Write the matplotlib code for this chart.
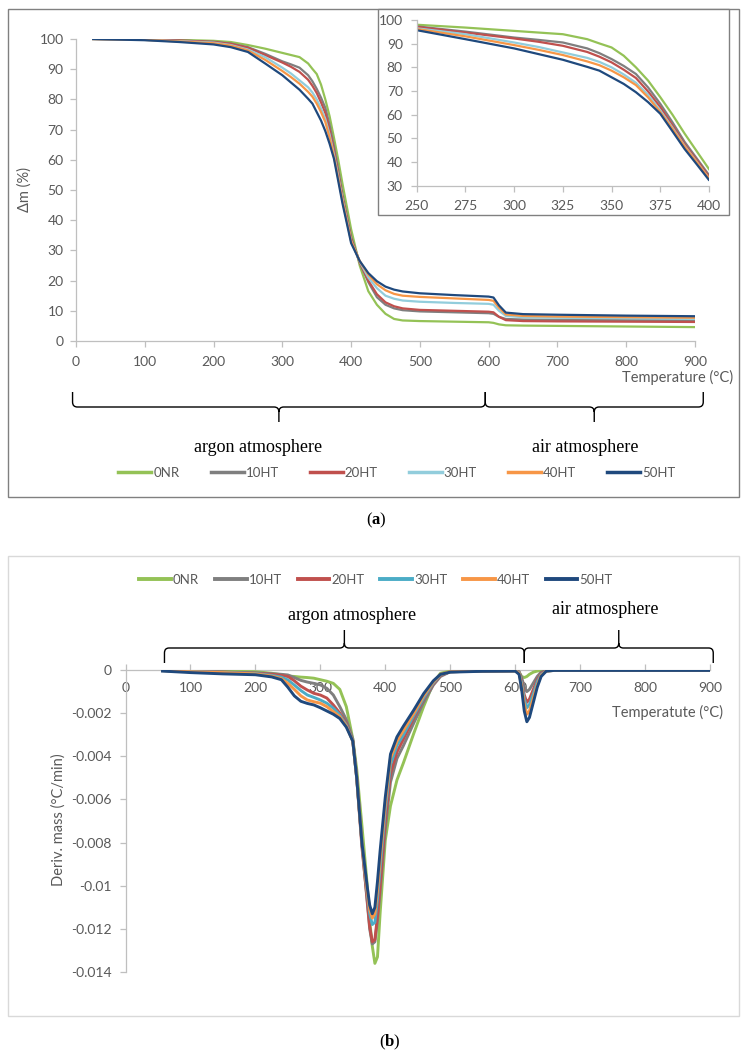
import numpy as np
import matplotlib
matplotlib.use('Agg')
import matplotlib.pyplot as plt
from matplotlib.path import Path
from matplotlib.patches import PathPatch, Rectangle
from matplotlib.transforms import blended_transform_factory
from matplotlib.lines import Line2D

plt.rcParams['font.family'] = ['Lato', 'DejaVu Sans']
plt.rcParams['mathtext.fontset'] = 'custom'
plt.rcParams['mathtext.rm'] = 'Liberation Serif'
plt.rcParams['mathtext.bf'] = 'Liberation Serif:bold'

# ---------------- data ----------------
names = ['0NR', '10HT', '20HT', '30HT', '40HT', '50HT']
colors_a = ['#94C256', '#7F7F7F', '#C0504D', '#92CDDC', '#F79646', '#1F497D']
colors_b = ['#94C256', '#7F7F7F', '#C0504D', '#4BACC6', '#F79646', '#1F497D']

# (a) TG curves, mass (%)
T_tg = [25, 100, 150, 200, 225, 250, 275, 300, 312.5, 325, 337.5, 343.75, 350, 356.25,
        362.5, 368.75, 375, 381.25, 387.5, 393.75, 400, 412.5, 425, 437.5, 450, 462.5,
        475, 500, 550, 600, 607, 615, 625, 650, 700, 800, 900]
tg_0nr = [100, 99.9, 99.7, 99.4, 99.0, 98.0, 96.8, 95.4, 94.7, 94.0, 91.9, 90.1, 88.4, 84.9,
          80.0, 74.4, 67.4, 60.0, 52.0, 44.5, 37.0, 25.0, 16.5, 12.0, 9.0, 7.3,
          6.8, 6.6, 6.4, 6.2, 6.0, 5.5, 5.2, 5.1, 5.0, 4.8, 4.6]
tg_10ht = [100, 99.8, 99.5, 99.1, 98.5, 97.3, 95.1, 92.6, 91.6, 90.5, 88.0, 86.0, 83.5, 80.6,
           77.2, 71.5, 64.6, 56.8, 48.5, 41.5, 34.5, 26.0, 19.5, 14.5, 12.0, 10.8,
           10.2, 9.8, 9.5, 9.2, 9.0, 8.0, 7.3, 7.1, 7.0, 6.9, 6.9]
tg_20ht = [100, 99.8, 99.5, 99.0, 98.4, 97.1, 94.7, 92.2, 90.8, 89.1, 86.5, 84.5, 82.1, 79.0,
           75.5, 69.8, 63.2, 55.5, 47.5, 40.8, 33.8, 26.0, 20.0, 15.5, 12.8, 11.5,
           10.8, 10.3, 10.0, 9.7, 9.5, 8.0, 6.9, 6.6, 6.5, 6.4, 6.3]
tg_30ht = [100, 99.7, 99.3, 98.8, 98.0, 96.5, 94.0, 90.5, 88.6, 86.3, 84.0, 82.3, 80.0, 77.0,
           73.5, 68.3, 61.8, 54.5, 46.8, 40.0, 33.1, 26.3, 21.0, 17.5, 15.0, 14.0,
           13.4, 13.0, 12.6, 12.3, 12.0, 10.0, 8.3, 7.9, 7.7, 7.5, 7.3]
tg_40ht = [100, 99.7, 99.2, 98.6, 97.8, 96.2, 93.1, 89.4, 87.4, 85.2, 82.5, 80.9, 78.6, 75.8,
           72.5, 67.3, 61.1, 54.0, 46.5, 39.8, 33.1, 26.5, 22.0, 18.8, 16.8, 15.6,
           15.0, 14.6, 14.1, 13.6, 13.3, 11.0, 8.8, 8.3, 8.1, 7.9, 7.7]
tg_50ht = [100, 99.6, 99.0, 98.2, 97.3, 95.7, 91.9, 88.0, 85.6, 83.2, 80.2, 78.6, 75.8, 73.0,
           69.5, 65.3, 60.4, 53.0, 45.5, 39.0, 32.4, 26.5, 22.5, 19.8, 18.0, 17.0,
           16.4, 15.8, 15.2, 14.7, 14.4, 11.8, 9.4, 8.9, 8.7, 8.4, 8.2]
tg_all = [tg_0nr, tg_10ht, tg_20ht, tg_30ht, tg_40ht, tg_50ht]

# (b) DTG curves, magnitude in 1e-3 units (plotted as negative values)
T_dtg = [57, 100, 150, 200, 225, 240, 250, 260, 270, 280, 290, 300, 310, 320, 330, 340,
         350, 356, 364, 372, 376, 380, 384, 388, 392, 400, 408, 418, 428, 444, 459, 474, 485,
         500, 550, 600, 606, 610, 614, 618, 622, 628, 634, 640, 648, 660, 700, 800, 900]
dtg_0nr = [0.02, 0.03, 0.05, 0.08, 0.15, 0.22, 0.28, 0.3, 0.33, 0.35, 0.38, 0.45, 0.52, 0.62, 0.9, 1.7,
           3.2, 4.6, 7.2, 9.9, 11.6, 12.8, 13.6, 13.3, 11.3, 7.9, 6.3, 5.1, 4.3, 2.93, 1.7, 0.6, 0.15,
           0.05, 0.03, 0.02, 0.1, 0.3, 0.35, 0.3, 0.2, 0.1, 0.05, 0.02, 0.01, 0.01, 0.01, 0.01, 0.01]
dtg_10ht = [0.02, 0.05, 0.09, 0.13, 0.17, 0.2, 0.23, 0.35, 0.48, 0.56, 0.62, 0.69, 0.85, 1.16, 1.7, 2.3,
            3.2, 4.9, 8.0, 10.7, 12.0, 12.7, 12.6, 11.6, 10.3, 7.4, 5.2, 4.1, 3.5, 2.45, 1.5, 0.7, 0.3,
            0.08, 0.05, 0.04, 0.08, 0.35, 0.8, 1.0, 0.9, 0.6, 0.3, 0.1, 0.03, 0.02, 0.02, 0.02, 0.02]
dtg_20ht = [0.02, 0.06, 0.1, 0.15, 0.2, 0.25, 0.3, 0.5, 0.75, 0.93, 1.08, 1.16, 1.3, 1.62, 2.0, 2.47,
            3.3, 5.0, 8.2, 10.6, 11.9, 12.6, 12.5, 11.4, 10.0, 7.0, 4.8, 3.8, 3.2, 2.2, 1.35, 0.65, 0.25,
            0.08, 0.05, 0.04, 0.1, 0.5, 1.15, 1.5, 1.35, 0.9, 0.45, 0.15, 0.04, 0.02, 0.02, 0.02, 0.02]
dtg_30ht = [0.03, 0.07, 0.11, 0.16, 0.25, 0.33, 0.46, 0.7, 0.95, 1.16, 1.27, 1.39, 1.54, 1.77, 2.08, 2.55,
            3.3, 5.0, 8.0, 10.3, 11.3, 11.8, 11.7, 10.6, 9.2, 6.5, 4.4, 3.5, 3.0, 2.1, 1.3, 0.6, 0.22,
            0.08, 0.05, 0.04, 0.12, 0.6, 1.35, 1.75, 1.6, 1.1, 0.55, 0.2, 0.05, 0.02, 0.02, 0.02, 0.02]
dtg_40ht = [0.03, 0.08, 0.12, 0.18, 0.28, 0.4, 0.62, 0.9, 1.2, 1.39, 1.47, 1.54, 1.7, 1.93, 2.16, 2.6,
            3.3, 5.0, 8.0, 10.2, 11.1, 11.5, 11.3, 10.2, 8.8, 6.2, 4.1, 3.3, 2.8, 2.0, 1.2, 0.55, 0.2,
            0.08, 0.05, 0.04, 0.15, 0.75, 1.6, 2.05, 1.9, 1.3, 0.7, 0.25, 0.05, 0.02, 0.02, 0.02, 0.02]
dtg_50ht = [0.05, 0.12, 0.18, 0.22, 0.32, 0.45, 0.8, 1.2, 1.45, 1.55, 1.62, 1.75, 1.9, 2.05, 2.25, 2.65,
            3.3, 5.0, 8.0, 10.0, 10.9, 11.3, 11.0, 9.8, 8.4, 5.9, 3.9, 3.1, 2.6, 1.85, 1.1, 0.5, 0.2,
            0.1, 0.06, 0.05, 0.2, 0.9, 1.9, 2.4, 2.2, 1.5, 0.8, 0.3, 0.05, 0.02, 0.02, 0.02, 0.02]
dtg_all = [dtg_0nr, dtg_10ht, dtg_20ht, dtg_30ht, dtg_40ht, dtg_50ht]

# atmosphere spans (deg C) for the braces
argon_a, air_a = [-5, 595], [595, 912]
argon_b, air_b = [60, 614], [614, 905]

# ---------------- layout helpers ----------------
W, H = 750, 1057
GREY_TXT = '#595959'


def box(x0, y0, x1, y1):
    return [x0 / W, 1 - y1 / H, (x1 - x0) / W, (y1 - y0) / H]


def fy(y):
    return 1 - y / H


def style(ax):
    for s in ['top', 'right']:
        ax.spines[s].set_visible(False)
    for s in ['left', 'bottom']:
        ax.spines[s].set_color('#BFBFBF')
        ax.spines[s].set_linewidth(0.9)
    ax.tick_params(colors='#BFBFBF', labelcolor=GREY_TXT, labelsize=10,
                   length=4, width=0.9)


def brace(ax, span, y_end, y_bar, y_tip, rx, ry=5):
    x0, x1 = span
    xc = (x0 + x1) / 2
    se = np.sign(y_end - y_bar)
    st = np.sign(y_tip - y_bar)
    verts = [(x0, fy(y_end)), (x0, fy(y_bar + se * ry)), (x0, fy(y_bar)), (x0 + rx, fy(y_bar)),
             (xc - rx, fy(y_bar)), (xc, fy(y_bar)), (xc, fy(y_bar + st * ry)), (xc, fy(y_tip)),
             (xc, fy(y_bar + st * ry)), (xc, fy(y_bar)), (xc + rx, fy(y_bar)),
             (x1 - rx, fy(y_bar)), (x1, fy(y_bar)), (x1, fy(y_bar + se * ry)), (x1, fy(y_end))]
    codes = [Path.MOVETO, Path.LINETO, Path.CURVE3, Path.CURVE3,
             Path.LINETO, Path.CURVE3, Path.CURVE3, Path.LINETO,
             Path.MOVETO, Path.CURVE3, Path.CURVE3,
             Path.LINETO, Path.CURVE3, Path.CURVE3, Path.LINETO]
    tr = blended_transform_factory(ax.transData, fig.transFigure)
    ax.add_patch(PathPatch(Path(verts, codes), transform=tr, fill=False,
                           lw=1.0, ec='black', clip_on=False))


fig = plt.figure(figsize=(W / 100, H / 100), dpi=100)

# ---------------- panel (a) ----------------
fig.add_artist(Rectangle((8 / W, fy(497)), 731 / W, 488 / H, transform=fig.transFigure,
                         fill=False, ec='#808080', lw=1.0))

ax1 = fig.add_axes(box(76, 39, 695, 341))
style(ax1)
for y, c in zip(tg_all, colors_a):
    ax1.plot(T_tg, y, color=c, lw=1.6)
ax1.set_xlim(0, 900)
ax1.set_ylim(0, 100)
ax1.set_xticks(range(0, 901, 100))
ax1.set_yticks(range(0, 101, 10))
ax1.tick_params(axis='x', pad=7)
ax1.tick_params(axis='y', pad=5)

fig.text(25 / W, fy(190), 'Δm (%)', rotation=90, ha='center', va='center',
         fontsize=10.5, color=GREY_TXT)
fig.text(733 / W, fy(377), 'Temperature (°C)', ha='right', va='center',
         fontsize=10.5, color=GREY_TXT)

# inset
fig.add_artist(Rectangle((378 / W, fy(215)), 351 / W, 206 / H, transform=fig.transFigure,
                         fc='white', ec='#808080', lw=1.0, zorder=5))
axi = fig.add_axes(box(416.7, 20, 709, 185.7), zorder=6)
style(axi)
for y, c in zip(tg_all, colors_a):
    axi.plot(T_tg, y, color=c, lw=1.6)
axi.set_xlim(250, 400)
axi.set_ylim(30, 100)
axi.set_xticks(range(250, 401, 25))
axi.set_yticks(range(30, 101, 10))
axi.tick_params(axis='x', pad=6)
axi.tick_params(axis='y', pad=6)

brace(ax1, argon_a, 392, 407, 422, rx=7)
brace(ax1, air_a, 392, 407, 422, rx=7)
fig.text(258 / W, fy(448), 'argon atmosphere', ha='center', va='center',
         fontsize=13, family='Liberation Serif')
fig.text(585 / W, fy(447), 'air atmosphere', ha='center', va='center',
         fontsize=13, family='Liberation Serif')

handles_a = [Line2D([], [], color=c, lw=2.5) for c in colors_a]
fig.legend(handles_a, names, loc='center', bbox_to_anchor=(397 / W, fy(473)), ncol=6,
           frameon=False, handlelength=2.5, handletextpad=0.15, columnspacing=2.35,
           fontsize=9.5, labelcolor=GREY_TXT)

fig.text(376 / W, fy(520), r'$\mathrm{(}\mathbf{a}\mathrm{)}$', ha='center', va='center',
         fontsize=12)

# ---------------- panel (b) ----------------
fig.add_artist(Rectangle((8 / W, fy(1016)), 731 / W, 460 / H, transform=fig.transFigure,
                         fill=False, ec='#D9D9D9', lw=1.0))

ax2 = fig.add_axes(box(125.5, 670, 710, 972))
style(ax2)
ax2.spines['bottom'].set_position(('data', 0))
for y, c in zip(dtg_all, colors_b):
    ax2.plot(T_dtg, -np.array(y) / 1000, color=c, lw=2.1, zorder=3)
ax2.set_xlim(0, 900)
ax2.set_ylim(-0.014, 0)
ax2.set_xticks(range(0, 901, 100))
ax2.set_yticks([-0.014, -0.012, -0.01, -0.008, -0.006, -0.004, -0.002, 0])
ax2.set_yticklabels(['-0.014', '-0.012', '-0.01', '-0.008', '-0.006', '-0.004', '-0.002', '0'])
ax2.tick_params(axis='x', direction='in', pad=9)
ax2.tick_params(axis='y', pad=6)

fig.text(59 / W, fy(820), 'Deriv. mass (°C/min)', rotation=90, ha='center', va='center',
         fontsize=10.5, color=GREY_TXT)
fig.text(723 / W, fy(712), 'Temperatute (°C)', ha='right', va='center',
         fontsize=10.5, color=GREY_TXT)

brace(ax2, argon_b, 663, 648, 630, rx=7)
brace(ax2, air_b, 663, 648, 630, rx=7)
fig.text(352 / W, fy(615), 'argon atmosphere', ha='center', va='center',
         fontsize=13, family='Liberation Serif')
fig.text(605 / W, fy(610), 'air atmosphere', ha='center', va='center',
         fontsize=13, family='Liberation Serif')

handles_b = [Line2D([], [], color=c, lw=2.8) for c in colors_b]
fig.legend(handles_b, names, loc='center', bbox_to_anchor=(376 / W, fy(580)), ncol=6,
           frameon=False, handlelength=2.4, handletextpad=0.15, columnspacing=1.2,
           fontsize=9.5, labelcolor=GREY_TXT)

fig.text(390 / W, fy(1042), r'$\mathrm{(}\mathbf{b}\mathrm{)}$', ha='center', va='center',
         fontsize=12)

fig.savefig('out.png', dpi=100, facecolor='white')
